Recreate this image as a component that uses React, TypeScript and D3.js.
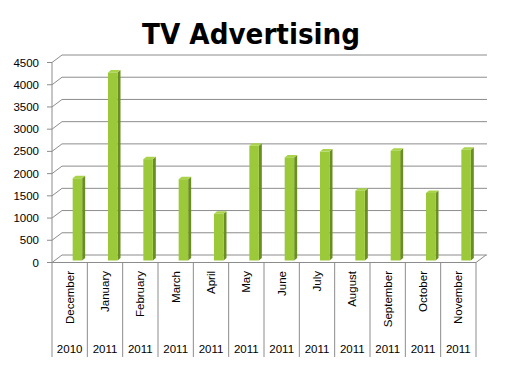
import React, { useEffect, useRef } from 'react';
import * as d3 from 'd3';

const months = ['December', 'January', 'February', 'March', 'April', 'May', 'June', 'July', 'August', 'September', 'October', 'November'];
const years = ['2010', '2011', '2011', '2011', '2011', '2011', '2011', '2011', '2011', '2011', '2011', '2011'];
const values = [1850, 4230, 2280, 1830, 1050, 2580, 2320, 2450, 1570, 2470, 1520, 2490];
const yTicks = [0, 500, 1000, 1500, 2000, 2500, 3000, 3500, 4000, 4500];

const App: React.FC = () => {
  const svgRef = useRef<SVGSVGElement>(null);

  useEffect(() => {
    const W = 514, H = 365;
    const svg = d3.select(svgRef.current);
    svg.selectAll('*').remove();
    svg.attr('width', W).attr('height', H);

    // 3d depth offset of the back wall
    const dx = 10, dy = -7.5;
    const left = 52, right = 476;
    const axisColor = '#8c8c8c';

    const x = d3.scaleBand<number>()
      .domain(months.map((_, i) => i))
      .range([left, right]);
    const y = d3.scaleLinear().domain([0, 4500]).range([262.5, 62.5]);

    svg.append('rect').attr('width', W).attr('height', H).attr('fill', 'white');

    // title
    svg.append('text')
      .attr('x', 251)
      .attr('y', 44)
      .attr('text-anchor', 'middle')
      .attr('textLength', 218)
      .attr('lengthAdjust', 'spacingAndGlyphs')
      .style('font-family', 'Verdana, "DejaVu Sans", sans-serif')
      .style('font-weight', 'bold')
      .style('font-size', '28px')
      .text('TV Advertising');

    // back wall gridlines with diagonal to the front axis
    const grid = svg.append('g');
    yTicks.forEach(t => {
      grid.append('line')
        .attr('x1', left + dx).attr('x2', right + dx + 1)
        .attr('y1', y(t) + dy).attr('y2', y(t) + dy)
        .attr('stroke', axisColor).attr('stroke-width', 1);
      grid.append('line')
        .attr('x1', left).attr('x2', left + dx)
        .attr('y1', y(t)).attr('y2', y(t) + dy)
        .attr('stroke', axisColor).attr('stroke-width', 1);
      grid.append('line')
        .attr('x1', left - 5).attr('x2', left)
        .attr('y1', y(t)).attr('y2', y(t))
        .attr('stroke', axisColor).attr('stroke-width', 1);
      grid.append('text')
        .attr('x', 39)
        .attr('y', y(t))
        .attr('dy', '0.35em')
        .attr('text-anchor', 'end')
        .style('font-family', '"Liberation Sans", Arial, sans-serif')
        .style('font-size', '11.5px')
        .text(t);
    });

    // y axis line
    svg.append('line')
      .attr('x1', left).attr('x2', left)
      .attr('y1', y(4500)).attr('y2', y(0))
      .attr('stroke', axisColor);

    // floor front edge and right diagonal
    svg.append('line')
      .attr('x1', left).attr('x2', right)
      .attr('y1', y(0)).attr('y2', y(0))
      .attr('stroke', axisColor);
    svg.append('line')
      .attr('x1', right).attr('x2', right + dx)
      .attr('y1', y(0)).attr('y2', y(0) + dy)
      .attr('stroke', axisColor);

    // bars
    const bw = 9.5, bd = 3, bdy = -2.5;
    const base = y(0) - 2;
    const bars = svg.append('g');
    values.forEach((v, i) => {
      const x0 = (x(i) || 0) + x.bandwidth() / 2 + 3;
      const x1 = x0 + bw;
      const top = base - (y(0) - y(v));
      // side face
      bars.append('path')
        .attr('d', `M${x1},${base}L${x1 + bd},${base + bdy}L${x1 + bd},${top + bdy}L${x1},${top}Z`)
        .attr('fill', '#6b8e23');
      // top face
      bars.append('path')
        .attr('d', `M${x0},${top}L${x0 + bd},${top + bdy}L${x1 + bd},${top + bdy}L${x1},${top}Z`)
        .attr('fill', '#a9d44a');
      // front face
      bars.append('rect')
        .attr('x', x0).attr('y', top)
        .attr('width', bw).attr('height', base - top)
        .attr('fill', '#9bc93a');
    });

    // category separators
    const seps = svg.append('g');
    const bounds = months.map((_, i) => x(i) || 0).concat([right]);
    bounds.forEach(b => {
      seps.append('line')
        .attr('x1', b).attr('x2', b)
        .attr('y1', y(0)).attr('y2', 357)
        .attr('stroke', axisColor);
    });

    // month labels
    months.forEach((m, i) => {
      const cx = (x(i) || 0) + x.bandwidth() / 2;
      svg.append('text')
        .attr('transform', `translate(${cx},271) rotate(-90)`)
        .attr('text-anchor', 'end')
        .attr('dy', '0.35em')
        .style('font-family', '"Liberation Sans", Arial, sans-serif')
        .style('font-size', '11.5px')
        .text(m);
    });

    // year labels
    years.forEach((yr, i) => {
      const cx = (x(i) || 0) + x.bandwidth() / 2;
      svg.append('text')
        .attr('x', cx)
        .attr('y', 352.5)
        .attr('text-anchor', 'middle')
        .style('font-family', '"Liberation Sans", Arial, sans-serif')
        .style('font-size', '11.5px')
        .text(yr);
    });
  }, []);

  return (
    <div style={{ position: 'absolute', left: 0, top: 0 }}>
      <svg ref={svgRef} style={{ display: 'block' }}></svg>
    </div>
  );
};

export default App;
